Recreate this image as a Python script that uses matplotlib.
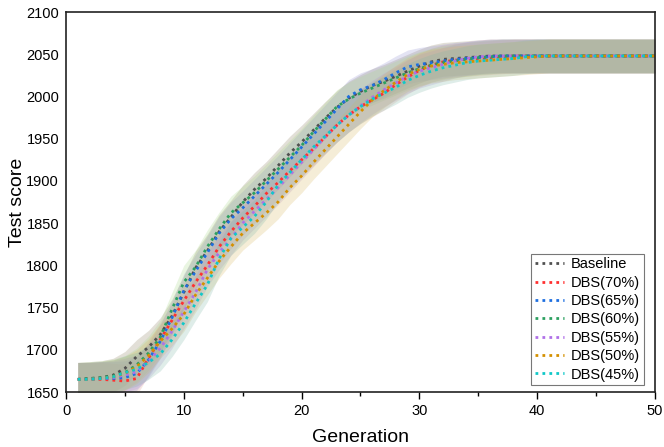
# Test score vs generation - Baseline ve DBS oranlari
import numpy as np
import matplotlib.pyplot as plt
from matplotlib.ticker import MultipleLocator

plt.rcParams['font.family'] = ['Liberation Sans', 'DejaVu Sans']

gens = list(range(1, 51))

baseline = [1665, 1666, 1667, 1670, 1678, 1692, 1703, 1718, 1740, 1768,
            1797, 1817, 1840, 1857, 1875, 1890, 1903, 1918, 1933, 1946,
            1960, 1974, 1987, 1998, 2006, 2013, 2018, 2024, 2030, 2036,
            2041, 2044, 2045, 2046, 2047, 2048, 2048, 2048, 2048, 2048,
            2048, 2048, 2048, 2048, 2048, 2048, 2048, 2048, 2048, 2048]
dbs70 = [1665, 1665, 1665, 1664, 1663, 1666, 1690, 1712, 1735, 1758,
         1780, 1800, 1822, 1840, 1856, 1870, 1885, 1898, 1912, 1925,
         1938, 1952, 1966, 1978, 1988, 1996, 2004, 2014, 2023, 2031,
         2037, 2041, 2043, 2044, 2045, 2046, 2047, 2048, 2048, 2048,
         2048, 2048, 2048, 2048, 2048, 2048, 2048, 2048, 2048, 2048]
dbs65 = [1665, 1665, 1666, 1666, 1667, 1672, 1688, 1710, 1738, 1770,
         1793, 1815, 1838, 1855, 1868, 1882, 1896, 1910, 1925, 1940,
         1955, 1970, 1985, 2000, 2008, 2013, 2020, 2028, 2035, 2038,
         2040, 2042, 2044, 2045, 2046, 2047, 2048, 2048, 2048, 2048,
         2048, 2048, 2048, 2048, 2048, 2048, 2048, 2048, 2048, 2048]
dbs60 = [1665, 1666, 1667, 1669, 1673, 1682, 1696, 1715, 1748, 1780,
         1798, 1822, 1843, 1862, 1874, 1886, 1900, 1914, 1928, 1942,
         1958, 1973, 1988, 1997, 2004, 2010, 2016, 2022, 2028, 2033,
         2037, 2040, 2042, 2044, 2046, 2047, 2048, 2048, 2048, 2048,
         2048, 2048, 2048, 2048, 2048, 2048, 2048, 2048, 2048, 2048]
dbs55 = [1665, 1665, 1666, 1667, 1670, 1674, 1686, 1702, 1722, 1745,
         1768, 1795, 1815, 1832, 1850, 1864, 1878, 1892, 1907, 1922,
         1937, 1952, 1966, 1978, 1989, 1999, 2008, 2016, 2024, 2030,
         2034, 2038, 2042, 2045, 2047, 2048, 2048, 2048, 2048, 2048,
         2048, 2048, 2048, 2048, 2048, 2048, 2048, 2048, 2048, 2048]
dbs50 = [1665, 1665, 1666, 1668, 1672, 1680, 1693, 1710, 1725, 1742,
         1765, 1785, 1805, 1822, 1838, 1850, 1862, 1875, 1892, 1906,
         1922, 1937, 1952, 1967, 1982, 1996, 2007, 2017, 2026, 2032,
         2036, 2038, 2040, 2041, 2042, 2043, 2044, 2045, 2046, 2047,
         2048, 2048, 2048, 2048, 2048, 2048, 2048, 2048, 2048, 2048]
dbs45 = [1665, 1665, 1666, 1668, 1673, 1677, 1685, 1695, 1712, 1732,
         1755, 1777, 1808, 1832, 1845, 1858, 1875, 1895, 1910, 1925,
         1940, 1953, 1966, 1978, 1988, 1997, 2004, 2011, 2019, 2025,
         2030, 2034, 2037, 2040, 2042, 2043, 2044, 2045, 2047, 2048,
         2048, 2048, 2048, 2048, 2048, 2048, 2048, 2048, 2048, 2048]

labels = ["Baseline", "DBS(70%)", "DBS(65%)", "DBS(60%)", "DBS(55%)", "DBS(50%)", "DBS(45%)"]
series = [baseline, dbs70, dbs65, dbs60, dbs55, dbs50, dbs45]
stds = [20, 20, 20, 20, 20, 20, 20]  # band half-widths

line_colors = ["#505050", "#ff3030", "#1e6fe0", "#2ca060", "#b070e8", "#d49000", "#10c8c8"]
band_colors = ["#8f8263", "#e0a090", "#9090d0", "#a8d888", "#b090d0", "#d8b860", "#80b8a8"]

fig = plt.figure(figsize=(6.64, 4.47), dpi=100)
ax = fig.add_axes([0.0994, 0.123, 0.887, 0.85])

x = np.array(gens)
for y, s, bc in zip(series, stds, band_colors):
    y = np.array(y)
    ax.fill_between(x, y - s, y + s, color=bc, alpha=0.25, linewidth=0)

for y, lc, lab in zip(series, line_colors, labels):
    ax.plot(x, y, linestyle=(0, (1, 1.5)), color=lc, linewidth=2, label=lab)

ax.set_xlim(0, 50)
ax.set_ylim(1650, 2100)
ax.xaxis.set_major_locator(MultipleLocator(10))
ax.xaxis.set_minor_locator(MultipleLocator(5))
ax.yaxis.set_major_locator(MultipleLocator(50))
ax.tick_params(axis='x', which='major', direction='out', length=5, width=1, labelsize=10.5)
ax.tick_params(axis='x', which='minor', direction='out', length=3, width=1)
ax.tick_params(axis='y', length=0, labelsize=10.5, pad=5)
for sp in ax.spines.values():
    sp.set_linewidth(1.2)
    sp.set_color("#222222")

ax.set_xlabel("Generation", fontsize=14, labelpad=8)
ax.set_ylabel("Test score", fontsize=14, labelpad=0)

leg = ax.legend(loc='lower right', bbox_to_anchor=(0.981, 0.018), fontsize=10.5,
                frameon=True, fancybox=False, edgecolor='#555555',
                handlelength=2.0, handletextpad=0.5, labelspacing=0.3,
                borderpad=0.25, borderaxespad=0)
leg.get_frame().set_linewidth(0.8)

plt.savefig("out.png", dpi=100)
